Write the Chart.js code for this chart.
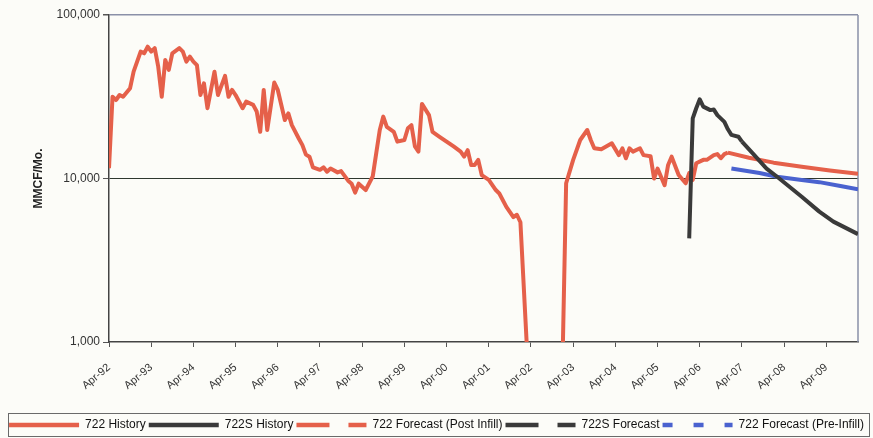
<!DOCTYPE html>
<html>
<head>
<meta charset="utf-8">
<script src="https://cdn.jsdelivr.net/npm/chart.js@4.4.1/dist/chart.umd.min.js"></script>
<style>
  html, body { margin: 0; padding: 0; background: #fcfcf8; }
  #wrap { width: 873px; height: 438px; }
</style>
</head>
<body>
<div id="wrap"><canvas id="prodChart" width="873" height="438"></canvas></div>
<script>
// x values are months counted from Apr-92
const tickLabels = ['Apr-92', 'Apr-93', 'Apr-94', 'Apr-95', 'Apr-96', 'Apr-97', 'Apr-98', 'Apr-99', 'Apr-00',
    'Apr-01', 'Apr-02', 'Apr-03', 'Apr-04', 'Apr-05', 'Apr-06', 'Apr-07', 'Apr-08', 'Apr-09'];
const yTicks = [1000, 10000, 100000];

// well was shut in 2002-2003: the line drops off the bottom of the axis
const hist722Months = [
    0, 1, 2, 3, 4, 6, 7, 9, 10, 11,
    12, 13, 14, 15, 16, 17, 18, 20, 21, 22,
    23, 24, 25, 26, 27, 28, 30, 31, 33, 34,
    35, 36, 38, 39, 41, 42, 43, 44, 45, 47,
    48, 50, 51, 52, 54, 55, 56, 57, 58, 60,
    61, 62, 63, 65, 66, 68, 69, 70, 71, 73,
    75, 76, 77, 78, 79, 81, 82, 84, 85, 86,
    87, 88, 89, 91, 92, 94, 96, 98, 100, 101,
    102, 103, 104, 105, 106, 108, 110, 111, 113, 115,
    116, 117, 119, 124, 129, 130, 132, 134, 136, 137,
    138, 140, 143, 145, 146, 147, 148, 149, 151, 152,
    154, 155, 156, 158, 159, 160, 162, 164, 165, 166,
    167, 169, 170, 172, 173, 174, 175, 176
];
const hist722Values = [
    11550, 31600, 30200, 32400, 31600, 35700, 45000, 59700, 58300, 64000,
    59700, 62700, 48300, 31600, 53100, 46200, 58300, 62700, 59700, 51900,
    55600, 51900, 49400, 32400, 38200, 26900, 45000, 32400, 42400, 31600,
    34800, 32400, 26900, 29500, 28200, 25700, 19300, 34800, 19800, 38600,
    34800, 22800, 25000, 21200, 17500, 16000, 14000, 13600, 11700, 11300,
    11700, 11000, 11500, 10900, 11100, 9700, 9300, 8200, 9300, 8500,
    10300, 14300, 19800, 23900, 20700, 19300, 16800, 17200, 20300, 21200,
    15700, 14600, 28600, 24400, 19300, 18000, 16800, 15700, 14600, 13600,
    14900, 12100, 12100, 13000, 10500, 9800, 8500, 8100, 6700, 5800,
    6000, 5400, 800, null, 800, 9350, 13000, 17200, 19800, 17200,
    15300, 15100, 16400, 13900, 15300, 13300, 15300, 14600, 15300, 13900,
    13700, 10000, 11500, 9100, 12100, 13600, 10500, 9350, 10800, 9800,
    12400, 13000, 13000, 13900, 14100, 13300, 14100, 14400
];

const hist722SMonths = [165, 166, 167, 168, 169, 171, 172, 173, 175, 176, 177, 179, 180];
const hist722SValues = [4300, 23300, 26900, 30500, 27500, 26200, 26400, 24400, 22200, 20000, 18500, 18000, 16800];

const fcPostMonths = [176, 182, 189, 197, 205, 213];
const fcPostValues = [14400, 13400, 12500, 11800, 11200, 10700];

const fc722SMonths = [180, 183, 187, 190, 197, 202, 206, 213];
const fc722SValues = [16800, 14300, 11500, 10250, 7740, 6270, 5450, 4570];

const fcPreMonths = [177, 185, 190, 197, 202, 208, 213];
const fcPreValues = [11500, 10800, 10250, 9800, 9500, 9000, 8600];

const red = '#e5604a';
const dark = '#3a3a3a';
const blue = '#4a62cf';
const fontFamily = '"Liberation Sans", Arial, sans-serif';
const legendDashes = [[], [], [33, 19], [33, 19], [10, 21]];

const toPoints = (months, values) => months.map((m, i) => ({x: m, y: values[i]}));

const lineStyle = {
    borderWidth: 4,
    pointRadius: 0,
    fill: false,
    tension: 0,
    spanGaps: false,
    clip: 0,
    borderJoinStyle: 'round'
};

// plot frame on the right side
const frameLines = {
    id: 'frameLines',
    beforeDatasetsDraw(chart) {
        const {ctx, chartArea} = chart;
        ctx.save();
        ctx.strokeStyle = '#8a90a8';
        ctx.lineWidth = 1.5;
        ctx.beginPath();
        ctx.moveTo(chartArea.right, chartArea.top);
        ctx.lineTo(chartArea.right, chartArea.bottom);
        ctx.stroke();
        ctx.restore();
    }
};

// box round the legend
const legendFrame = {
    id: 'legendFrame',
    afterDraw(chart) {
        const ctx = chart.ctx;
        ctx.save();
        ctx.strokeStyle = '#6a6a6a';
        ctx.lineWidth = 1;
        ctx.strokeRect(8.5, 413.5, 861, 23);
        ctx.restore();
    }
};

new Chart(document.getElementById('prodChart'), {
    type: 'line',
    data: {
        datasets: [
            {label: '722 History', data: toPoints(hist722Months, hist722Values), borderColor: red, order: 2, ...lineStyle},
            {label: '722S History', data: toPoints(hist722SMonths, hist722SValues), borderColor: dark, order: 0, ...lineStyle},
            {label: '722 Forecast (Post Infill)', data: toPoints(fcPostMonths, fcPostValues), borderColor: red, order: 2, ...lineStyle},
            {label: '722S Forecast', data: toPoints(fc722SMonths, fc722SValues), borderColor: dark, order: 0, ...lineStyle},
            {label: '722 Forecast (Pre-Infill)', data: toPoints(fcPreMonths, fcPreValues), borderColor: blue, order: 1, ...lineStyle}
        ]
    },
    options: {
        responsive: false,
        animation: false,
        layout: {padding: {top: 15, left: 0, right: 0, bottom: -3}},
        scales: {
            x: {
                type: 'linear',
                min: 0,
                max: 213,
                afterBuildTicks: scale => {
                    scale.ticks = tickLabels.map((_, i) => ({value: i * 12}));
                },
                afterFit: scale => {
                    scale.height = 74;
                },
                ticks: {
                    autoSkip: false,
                    minRotation: 40,
                    maxRotation: 40,
                    padding: 14,
                    color: '#333',
                    font: {family: fontFamily, size: 11},
                    callback: (value, index) => tickLabels[index]
                },
                grid: {drawOnChartArea: false, tickLength: 5, color: '#555'},
                border: {color: '#444', width: 1.5}
            },
            y: {
                type: 'logarithmic',
                min: 1000,
                max: 100000,
                afterBuildTicks: scale => {
                    scale.ticks = yTicks.map(v => ({value: v}));
                },
                afterFit: scale => {
                    scale.width = 109;
                },
                ticks: {
                    padding: 3,
                    color: '#333',
                    font: {family: fontFamily, size: 12},
                    callback: value => Number(value).toLocaleString('en-US')
                },
                grid: {
                    color: c => {
                        const v = c.tick ? c.tick.value : 0;
                        if (v === 10000) return '#2e372e';
                        if (v === 100000) return '#8a90a8';
                        return 'rgba(0,0,0,0)';
                    },
                    lineWidth: c => (c.tick && c.tick.value === 100000) ? 1.5 : 1,
                    tickLength: 6,
                    tickColor: '#555'
                },
                border: {color: '#444', width: 1.5},
                title: {
                    display: true,
                    text: 'MMCF/Mo.',
                    color: '#222',
                    font: {family: fontFamily, size: 12, weight: 'bold'},
                    padding: {top: 31, bottom: 0}
                }
            },
            yRight: {
                type: 'linear',
                position: 'right',
                ticks: {display: false},
                grid: {display: false, drawTicks: false},
                border: {display: false},
                afterFit: scale => {
                    scale.width = 15;
                }
            }
        },
        plugins: {
            tooltip: {enabled: false},
            legend: {
                position: 'bottom',
                labels: {
                    usePointStyle: true,
                    pointStyleWidth: 70,
                    padding: 3,
                    color: '#111',
                    font: {family: fontFamily, size: 12},
                    generateLabels: chart => chart.data.datasets.map((ds, i) => ({
                        text: ds.label,
                        fillStyle: 'rgba(0,0,0,0)',
                        strokeStyle: ds.borderColor,
                        lineWidth: 4.5,
                        lineDash: legendDashes[i],
                        lineCap: 'butt',
                        pointStyle: 'line',
                        hidden: false,
                        datasetIndex: i,
                        fontColor: '#111'
                    }))
                }
            }
        }
    },
    plugins: [frameLines, legendFrame]
});
</script>
</body>
</html>
